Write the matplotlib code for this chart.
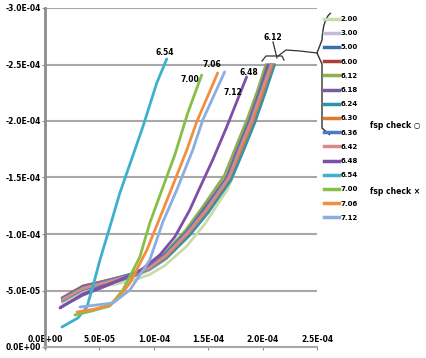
import numpy as np
import matplotlib
matplotlib.use("Agg")
import matplotlib.pyplot as plt
from matplotlib.lines import Line2D
from matplotlib.path import Path
from matplotlib.patches import PathPatch

# values in units of 1e-5
SCALE = 1e-5

labels = ["2.00", "3.00", "5.00", "6.00", "6.12", "6.18", "6.24", "6.30",
          "6.36", "6.42", "6.48", "6.54", "7.00", "7.06", "7.12"]
colors = ["#C9DCA8", "#C4BAD8", "#3F6FA8", "#B03C3A", "#8FB050", "#7A5CA0",
          "#2E93AE", "#E07A2A", "#4A7CC0", "#D98A88", "#7E4FA8", "#3FB0CC",
          "#86BE48", "#F38E3E", "#8AAEE0"]

x_200 = [1.6, 3.5, 5.1, 6.6, 8.1, 9.6, 11.0, 13.0, 14.7, 16.8, 17.9, 19.1, 20.1, 21.0]
y_200 = [-3.9, -4.9, -5.3, -5.6, -5.9, -6.4, -7.2, -8.9, -10.9, -14.0, -16.6, -19.5, -22.2, -25.0]
x_300 = [1.6, 3.5, 5.1, 6.6, 8.1, 9.6, 11.0, 13.0, 14.7, 16.8, 17.9, 19.0, 20.0, 20.9]
y_300 = [-4.0, -5.0, -5.4, -5.8, -6.2, -6.8, -7.7, -9.6, -11.6, -14.6, -17.1, -19.9, -22.4, -25.0]
x_500 = [1.6, 3.5, 5.1, 6.6, 8.1, 9.6, 11.0, 13.0, 14.7, 16.8, 17.9, 19.0, 19.9, 20.8]
y_500 = [-4.2, -5.2, -5.6, -6.0, -6.4, -7.1, -8.1, -10.0, -12.0, -14.9, -17.4, -20.1, -22.6, -25.0]
x_600 = [1.56, 3.49, 5.05, 6.61, 8.07, 9.63, 11.01, 13.03, 14.68, 16.79, 17.89, 18.99, 19.91, 20.83]
y_600 = [-4.34, -5.40, -5.75, -6.11, -6.46, -7.17, -8.14, -10.09, -12.12, -14.96, -17.43, -20.09, -22.57, -24.96]
x_612 = [1.6, 3.5, 5.1, 6.6, 8.1, 9.6, 11.0, 12.9, 14.5, 16.5, 17.5, 18.6, 19.5, 20.3]
y_612 = [-4.3, -5.3, -5.7, -6.1, -6.5, -7.2, -8.3, -10.3, -12.4, -15.2, -17.6, -20.2, -22.6, -25.0]
x_618 = [1.4, 3.5, 5.1, 6.6, 8.1, 9.6, 11.0, 13.0, 14.6, 16.7, 17.7, 18.8, 19.7, 20.5]
y_618 = [-3.5, -4.6, -5.2, -5.8, -6.3, -7.0, -8.1, -10.1, -12.2, -15.0, -17.5, -20.1, -22.6, -25.0]
x_624 = [1.6, 3.5, 5.1, 6.6, 8.1, 9.6, 11.2, 13.3, 15.0, 17.1, 18.2, 19.3, 20.2, 21.1]
y_624 = [-4.1, -5.1, -5.5, -5.9, -6.3, -6.9, -7.9, -9.9, -11.9, -14.8, -17.3, -19.9, -22.4, -25.0]
x_630 = [1.6, 3.5, 5.1, 6.6, 8.1, 9.6, 11.1, 13.1, 14.8, 16.9, 18.0, 19.1, 20.0, 20.9]
y_630 = [-4.2, -5.2, -5.6, -6.0, -6.4, -7.0, -8.0, -10.0, -12.0, -14.9, -17.4, -20.0, -22.5, -25.0]
x_636 = [1.6, 3.5, 5.1, 6.6, 8.1, 9.6, 11.0, 13.0, 14.7, 16.8, 17.8, 18.9, 19.8, 20.7]
y_636 = [-4.3, -5.3, -5.7, -6.1, -6.5, -7.1, -8.2, -10.2, -12.2, -15.0, -17.5, -20.1, -22.6, -25.0]
x_642 = [1.6, 3.5, 5.1, 6.6, 8.1, 9.6, 11.1, 13.1, 14.8, 16.9, 17.9, 19.0, 19.9, 20.8]
y_642 = [-4.2, -5.2, -5.6, -6.0, -6.4, -7.0, -8.1, -10.1, -12.1, -15.0, -17.5, -20.1, -22.6, -25.0]
x_648 = [1.38, 3.49, 6.61, 8.72, 10.55, 11.93, 13.30, 14.22, 15.41, 16.70, 18.53]
y_648 = [-3.45, -4.69, -5.84, -6.73, -8.14, -9.74, -12.12, -14.07, -16.55, -19.47, -23.90]
x_654 = [1.56, 3.03, 3.85, 4.31, 5.05, 5.96, 6.88, 8.99, 10.27, 11.19]
y_654 = [-1.77, -2.57, -3.54, -5.04, -7.70, -10.62, -13.63, -19.47, -23.36, -25.49]
x_700 = [2.75, 4.31, 5.96, 7.16, 8.72, 9.63, 10.74, 11.93, 13.12, 14.40]
y_700 = [-2.83, -3.19, -3.63, -5.04, -7.97, -10.97, -13.89, -17.00, -20.71, -24.07]
x_706 = [2.94, 4.59, 5.96, 6.88, 7.80, 9.36, 10.55, 11.47, 13.03, 13.94, 15.87]
y_706 = [-3.10, -3.36, -3.72, -4.51, -5.66, -8.58, -11.42, -13.63, -17.43, -19.91, -24.25]
x_712 = [3.21, 6.24, 7.80, 9.63, 10.83, 12.11, 13.58, 14.50, 16.51]
y_712 = [-3.54, -3.89, -5.04, -7.70, -11.06, -13.89, -17.43, -20.09, -24.34]

series_x = [x_200, x_300, x_500, x_600, x_612, x_618, x_624, x_630, x_636,
            x_642, x_648, x_654, x_700, x_706, x_712]
series_y = [y_200, y_300, y_500, y_600, y_612, y_618, y_624, y_630, y_636,
            y_642, y_648, y_654, y_700, y_706, y_712]

# in-plot labels: (text, x, y)
point_labels = [("6.54", 11.0, -26.1), ("7.00", 13.3, -23.7), ("7.06", 15.3, -25.0),
                ("7.12", 17.3, -22.5), ("6.48", 18.7, -24.3), ("6.12", 20.9, -27.4)]

xticks = [0, 5, 10, 15, 20, 25]
yticks = [0, -5, -10, -15, -20, -25, -30]

W, H = 427, 358
fig = plt.figure(figsize=(W / 100, H / 100), dpi=100)
ax = fig.add_axes([45 / W, 11 / H, 272 / W, 339 / H])

for xs, ys, c in zip(series_x, series_y, colors):
    ax.plot(np.array(xs) * SCALE, np.array(ys) * SCALE, color=c, lw=2.0,
            solid_capstyle="round", solid_joinstyle="round")

ax.set_xlim(0, 25 * SCALE)
ax.set_ylim(0, -30 * SCALE)
ax.set_xticks([t * SCALE for t in xticks])
ax.set_yticks([t * SCALE for t in yticks])
ax.set_xticklabels(["%.1E" % (t * SCALE) for t in xticks])
ax.set_yticklabels(["%.1E" % (t * SCALE) for t in yticks])
ax.yaxis.grid(True, color="#A8A8A8", lw=1.5)
ax.set_axisbelow(True)
for s in ("top", "right"):
    ax.spines[s].set_visible(False)
ax.spines["left"].set_color("#8C8C8C")
ax.spines["left"].set_linewidth(2)
ax.spines["bottom"].set_color("#A8A8A8")
ax.spines["bottom"].set_linewidth(1.5)
ax.tick_params(axis="x", pad=-11, length=2, color="#8C8C8C", labelsize=5.5)
ax.tick_params(axis="y", pad=1, length=2, color="#8C8C8C", labelsize=5.5)
for lab in ax.get_xticklabels() + ax.get_yticklabels():
    lab.set_fontweight("bold")

for txt, tx, ty in point_labels:
    ax.text(tx * SCALE, ty * SCALE, txt, fontsize=5.5, fontweight="bold", ha="center", va="center")

handles = [Line2D([], [], color=c, lw=2.5) for c in colors]
fig.legend(handles, labels, loc="upper left", bbox_to_anchor=(324 / W, 1 - 16 / H),
           frameon=False, handlelength=2.2, handletextpad=0.2,
           labelspacing=1.18, borderaxespad=0, borderpad=0,
           prop={"size": 5, "weight": "bold"})

fig.text(370 / W, 1 - 126 / H, "fsp check ○", fontsize=5.5, fontweight="bold", va="center")
fig.text(370 / W, 1 - 192 / H, "fsp check ×", fontsize=5.5, fontweight="bold", va="center")


def px(x, y):
    return (x / W, 1 - y / H)


brace = [px(331, 13), px(323, 18), px(322, 40), px(317, 53), px(322, 64), px(322, 128), px(330, 135)]
codes = [Path.MOVETO, Path.CURVE3, Path.LINETO, Path.LINETO, Path.LINETO, Path.LINETO, Path.LINETO]
fig.patches.append(PathPatch(Path(brace, codes), fill=False, lw=1.0, color="#333333",
                             transform=fig.transFigure, figure=fig))
conn = [px(317, 53), px(300, 51), px(286, 50), px(278, 56)]
fig.lines.append(Line2D(*zip(*conn), lw=0.9, color="#333333", transform=fig.transFigure, figure=fig))
arc = [px(262, 61), px(266, 56), px(282, 56), px(284, 60)]
fig.lines.append(Line2D(*zip(*arc), lw=0.9, color="#333333", transform=fig.transFigure, figure=fig))
lead = [px(273, 42), px(277, 58)]
fig.lines.append(Line2D(*zip(*lead), lw=0.9, color="#333333", transform=fig.transFigure, figure=fig))

fig.savefig("out.png", dpi=100)
